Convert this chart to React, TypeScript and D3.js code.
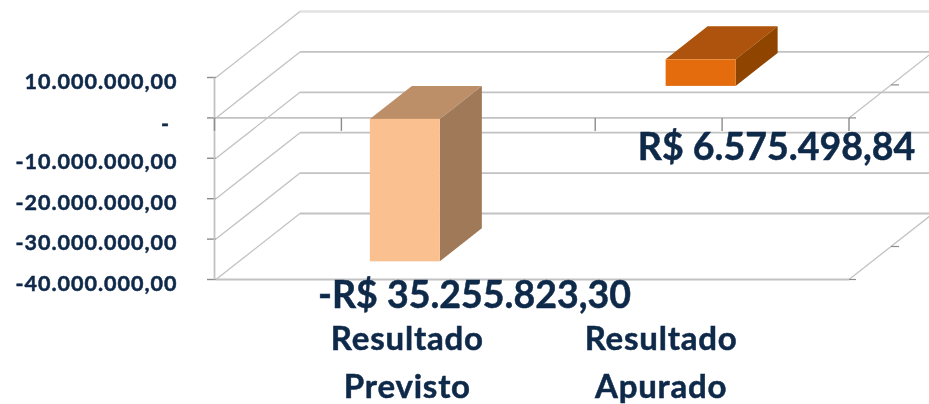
import React from "react";
import * as d3 from "d3";

const categories = ["a", "Resultado Previsto", "b", "Resultado Apurado", "c"];
const seriesNames = ["Previsto", "Apurado"];
const seriesValues = [-35255823.3, 6575498.84];
const seriesCategories = ["Resultado Previsto", "Resultado Apurado"];
const dataLabels = ["-R$ 35.255.823,30", "R$ 6.575.498,84"];
const yTicks = [10000000, 0, -10000000, -20000000, -30000000, -40000000];
const yTickLabels = ["10.000.000,00", "-", "-10.000.000,00", "-20.000.000,00", "-30.000.000,00", "-40.000.000,00"];

const FONT = "Lato, Carlito, sans-serif";
const INK = "#10294a";
const GRID = "#c2c2c2";

const faces = [
  { front: "#fac090", top: "#bd8f68", side: "#a07a59" },
  { front: "#e46c0a", top: "#ad5207", side: "#8f4506" },
];

const App = () => {
  const x = d3.scaleBand().domain(categories).range([214.5, 849]).padding(0);
  const y = d3.scaleLinear().domain([-40000000, 10000000]).range([279.5, 77.5]);
  // depth runs 0..2 rows from the front wall to the back wall
  const depthX = d3.scaleLinear().domain([0, 2]).range([0, 84]);
  const depthY = d3.scaleLinear().domain([0, 2]).range([0, -66]);
  const barW = 70;

  const tickXs = [...categories.map((c) => x(c) as number), 849];
  const back = (px: number, py: number, d = 2) => [px + depthX(d), py + depthY(d)];
  const poly = (pts: number[][]) => d3.line()(pts as [number, number][]) + "Z";

  return (
    <svg
      width={929}
      height={404}
      style={{ position: "absolute", left: 0, top: 0, background: "#fff" }}
    >
      <defs>
        <filter id="soft" x="-2%" y="-2%" width="104%" height="104%">
          <feGaussianBlur stdDeviation="0.45" />
        </filter>
      </defs>
      <g filter="url(#soft)">
        <g fill="none" stroke={GRID} strokeWidth={1.8}>
          {/* back wall + left wall */}
          {yTicks.map((t, i) => {
            const [bx, by] = back(216, y(t));
            return (
              <g key={t}>
                <line x1={bx} y1={by} x2={929} y2={by} stroke={i === 0 ? "#e2e2e2" : GRID} strokeWidth={i === 0 ? 2.6 : 1.8} />
                <line x1={216} y1={y(t)} x2={bx} y2={by} strokeWidth={1.3} />
                <line x1={207} y1={y(t)} x2={216} y2={y(t)} stroke="#8c8c8c" strokeWidth={1.4} />
              </g>
            );
          })}
          <line x1={214.5} y1={y(10000000)} x2={214.5} y2={y(-40000000)} />
          {/* floor front edge and zero axis */}
          <line x1={216} y1={y(-40000000)} x2={849} y2={y(-40000000)} />
          <line x1={216} y1={y(0)} x2={849} y2={y(0)} />
          {/* right edge of the floor and zero plane */}
          {[0, -40000000].map((t) => {
            const [bx, by] = back(849, y(t));
            const [mx, my] = back(849, y(t), 1);
            return (
              <g key={t}>
                <line x1={849} y1={y(t)} x2={bx} y2={by} strokeWidth={1.3} />
                <line x1={849} y1={y(t)} x2={856} y2={y(t)} stroke="#8c8c8c" strokeWidth={1.2} />
                <line x1={mx} y1={my} x2={mx + 8} y2={my} stroke="#8c8c8c" strokeWidth={1.2} />
              </g>
            );
          })}
          {tickXs.map((t) => (
            <line key={t} x1={t} y1={y(0)} x2={t} y2={y(0) + 13} stroke="#8c8c8c" strokeWidth={1.4} />
          ))}
        </g>

        {seriesNames.map((name, i) => {
          const band = x(seriesCategories[i]) as number;
          const x0 = band + (x.bandwidth() - barW) / 2 + depthX(i);
          const x1 = x0 + barW;
          const zero = y(0) + 1 + depthY(i);
          const end = zero + (y(seriesValues[i]) - y(0));
          const yTop = Math.min(zero, end);
          const yBot = Math.max(zero, end);
          const dx = depthX(1);
          const dy = depthY(1);
          return (
            <g key={name}>
              <path d={poly([[x0, yTop], [x1, yTop], [x1 + dx, yTop + dy], [x0 + dx, yTop + dy]])} fill={faces[i].top} />
              <path d={poly([[x1, yTop], [x1 + dx, yTop + dy], [x1 + dx, yBot + dy], [x1, yBot]])} fill={faces[i].side} />
              <rect x={x0} y={yTop} width={barW} height={yBot - yTop} fill={faces[i].front} />
            </g>
          );
        })}

        <g fontFamily={FONT} fontWeight={700} fill={INK} stroke={INK} strokeWidth={0.5}>
          {yTicks.map((t, i) => (
            <text
              key={t}
              x={i === 1 ? 170 : 177.5}
              y={y(t) + (i === 1 ? 13 : 11)}
              textAnchor="end"
              fontSize={21.5}
              letterSpacing={1}
            >
              {yTickLabels[i]}
            </text>
          ))}
          <text x={474.5} y={308} textAnchor="middle" fontSize={37.5}>{dataLabels[0]}</text>
          <text x={776.5} y={160} textAnchor="middle" fontSize={37.5}>{dataLabels[1]}</text>
          {seriesCategories.map((c) => {
            const cx = (x(c) as number) + x.bandwidth() / 2 + 2.5;
            const [first, second] = c.split(" ");
            return (
              <g key={c} textAnchor="middle" fontSize={33} letterSpacing={0.8}>
                <text x={cx} y={350}>{first}</text>
                <text x={cx} y={398}>{second}</text>
              </g>
            );
          })}
        </g>
      </g>
    </svg>
  );
};

export default App;
